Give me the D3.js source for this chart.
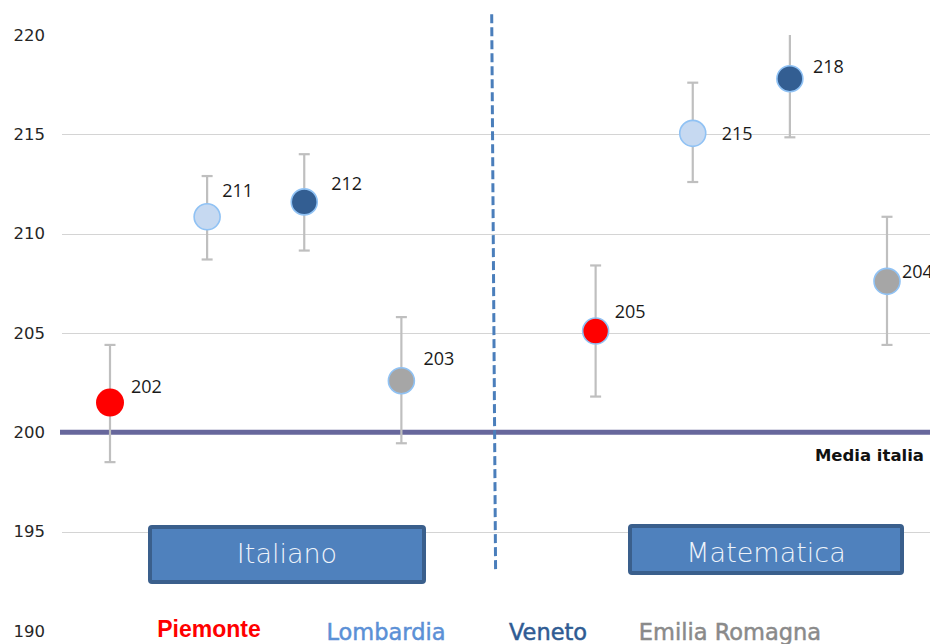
<!DOCTYPE html>
<html>
<head>
<meta charset="utf-8">
<script src="https://cdn.jsdelivr.net/npm/d3@7"></script>
<style>
  html, body { margin: 0; padding: 0; background: #ffffff; }
  svg { display: block; }
</style>
</head>
<body>
<div id="chart"></div>
<script>
// ---------------- data ----------------
const regions = ["Piemonte", "Lombardia", "Veneto", "Emilia Romagna"];
const subjects = ["Italiano", "Matematica"];
// mean scores (dot position) per subject, in region order
const italianoMean   = [201.5, 210.85, 211.6, 202.6];
const matematicaMean = [205.1, 215.05, 217.8, 207.6];
// printed value labels
const italianoLabel   = ["202", "211", "212", "203"];
const matematicaLabel = ["205", "215", "218", "204"];
// error bar ends
const italianoLow    = [198.5, 208.7, 209.15, 199.45];
const italianoHigh   = [204.4, 212.9, 214.0, 205.8];
const matematicaLow  = [201.8, 212.6, 214.85, 204.4];
const matematicaHigh = [208.4, 217.6, 220.3, 210.85];
const yTicks = [190, 195, 200, 205, 210, 215, 220];
const gridValues = [195, 205, 210, 215];
const mediaItalia = 200;
const mediaLabel = "Media italia";

// ---------------- layout / style ----------------
const W = 930, H = 644;
const regionFill   = ["#ff0000", "#c6d9f1", "#335e92", "#a6a6a6"];
const regionText   = ["#ff0000", "#5b90d6", "#2f5b93", "#8a8a8a"];
// label offsets (dx, dy) as placed in the original
const itLabDx = [21, 15, 27, 22], itLabDy = [-10, -20, -12, -16];
const maLabDx = [19, 29, 23, 15], maLabDy = [-13, 7, -6, -3];
const legendX = [209, 386, 548, 730];
const legendY = [637, 640, 640, 640];

const svg = d3.select("#chart").append("svg")
  .attr("width", W).attr("height", H);

const y = d3.scaleLinear().domain([190, 220]).range([631, 35]);
// slots: 0..3 Italiano, 5..8 Matematica, divider near 4
const x = d3.scaleLinear().domain([0, 8]).range([110, 887]);

svg.append("defs").append("clipPath").attr("id", "plotclip")
  .append("rect").attr("x", 0).attr("y", y(220)).attr("width", W).attr("height", y(190) - y(220));

// gridlines
svg.append("g").selectAll("line").data(gridValues).join("line")
  .attr("x1", 62).attr("x2", W)
  .attr("y1", d => Math.round(y(d)) + 0.5).attr("y2", d => Math.round(y(d)) + 0.5)
  .attr("stroke", "#d4d4d4").attr("stroke-width", 1);

// y axis labels
const yAxis = d3.axisLeft(y).tickValues(yTicks).tickSize(0).tickPadding(0).tickFormat(d3.format("d"));
const ga = svg.append("g").attr("transform", "translate(45,0)").call(yAxis);
ga.select(".domain").remove();
ga.selectAll("text")
  .attr("font-family", "DejaVu Sans, sans-serif")
  .attr("font-size", 16.5).attr("fill", "#262626");

// media line
svg.append("line")
  .attr("x1", 60).attr("x2", W)
  .attr("y1", y(mediaItalia)).attr("y2", y(mediaItalia))
  .attr("stroke", "#67679c").attr("stroke-width", 5);
svg.append("text")
  .attr("x", 924).attr("y", y(mediaItalia) + 29)
  .attr("text-anchor", "end")
  .attr("font-family", "DejaVu Sans, sans-serif").attr("font-weight", "bold")
  .attr("font-size", 16.5).attr("fill", "#111")
  .text(mediaLabel);

// divider
svg.append("line")
  .attr("x1", x(3.93)).attr("x2", x(3.97))
  .attr("y1", y(221.05)).attr("y2", y(193))
  .attr("stroke", "#4a7ebb").attr("stroke-width", 3)
  .attr("stroke-dasharray", "9,4");

// build point table
const pts = [];
regions.forEach((r, i) => {
  pts.push({slot: i, mean: italianoMean[i], lo: italianoLow[i], hi: italianoHigh[i],
            lab: italianoLabel[i], dx: itLabDx[i], dy: itLabDy[i], ri: i, subj: 0});
  pts.push({slot: 5 + i, mean: matematicaMean[i], lo: matematicaLow[i], hi: matematicaHigh[i],
            lab: matematicaLabel[i], dx: maLabDx[i], dy: maLabDy[i], ri: i, subj: 1});
});

const gp = svg.append("g").attr("clip-path", "url(#plotclip)");
// error bars
gp.selectAll("line.eb").data(pts).join("line").attr("class", "eb")
  .attr("x1", d => x(d.slot)).attr("x2", d => x(d.slot))
  .attr("y1", d => y(d.hi)).attr("y2", d => y(d.lo))
  .attr("stroke", "#bfbfbf").attr("stroke-width", 2.2);
const caps = [];
pts.forEach(d => { caps.push({slot: d.slot, v: d.hi}); caps.push({slot: d.slot, v: d.lo}); });
gp.selectAll("line.cap").data(caps).join("line").attr("class", "cap")
  .attr("x1", d => x(d.slot) - 5.5).attr("x2", d => x(d.slot) + 5.5)
  .attr("y1", d => y(d.v)).attr("y2", d => y(d.v))
  .attr("stroke", "#bfbfbf").attr("stroke-width", 2.2);

// dots
svg.append("g").selectAll("circle").data(pts).join("circle")
  .attr("cx", d => x(d.slot)).attr("cy", d => y(d.mean))
  .attr("r", d => (d.ri === 0 && d.subj === 0) ? 14 : 13)
  .attr("fill", d => regionFill[d.ri])
  .attr("stroke", d => (d.ri === 0 && d.subj === 0) ? "none" : "#90c2f4")
  .attr("stroke-width", 1.6);

// value labels
svg.append("g").selectAll("text").data(pts).join("text")
  .attr("x", d => x(d.slot) + d.dx).attr("y", d => y(d.mean) + d.dy)
  .attr("font-family", "Open Sans, Liberation Sans, Arial, sans-serif")
  .attr("font-size", 18).attr("fill", "#1a1a1a")
  .text(d => d.lab);

// subject boxes
const boxes = [
  {t: subjects[0], x0: 150, x1: 424, y0: 527, y1: 582, tx: 287, ty: 563},
  {t: subjects[1], x0: 630, x1: 902, y0: 526, y1: 573, tx: 766, ty: 561.5}
];
const gb = svg.append("g").selectAll("g").data(boxes).join("g");
gb.append("rect")
  .attr("x", d => d.x0).attr("y", d => d.y0)
  .attr("width", d => d.x1 - d.x0).attr("height", d => d.y1 - d.y0)
  .attr("rx", 2)
  .attr("fill", "#4f81bd").attr("stroke", "#3a5f8c").attr("stroke-width", 4);
gb.append("text")
  .attr("x", d => d.tx).attr("y", d => d.ty)
  .attr("text-anchor", "middle")
  .attr("font-family", "DejaVu Sans, sans-serif").attr("font-weight", 200)
  .attr("font-size", 27).attr("fill", "#eef3fa")
  .text(d => d.t);

// region legend at bottom
svg.append("g").selectAll("text").data(regions).join("text")
  .attr("x", (d, i) => legendX[i]).attr("y", (d, i) => legendY[i])
  .attr("text-anchor", "middle")
  .attr("font-family", (d, i) => i === 0 ? "Liberation Sans, Arial, sans-serif" : "DejaVu Sans, sans-serif")
  .attr("font-weight", (d, i) => i === 0 ? "bold" : "normal")
  .attr("font-size", (d, i) => i === 0 ? 23 : 22.5)
  .attr("fill", (d, i) => regionText[i])
  .attr("stroke", (d, i) => i === 0 ? "none" : regionText[i])
  .attr("stroke-width", 0.5)
  .text(d => d);
</script>
</body>
</html>
